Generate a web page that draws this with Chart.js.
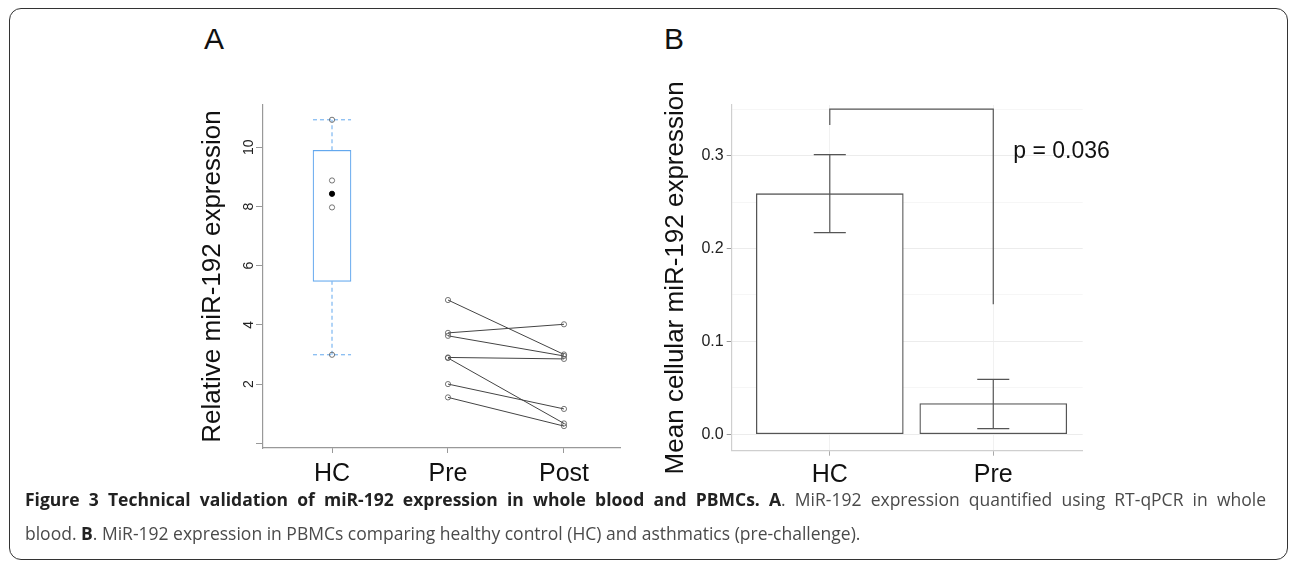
<!DOCTYPE html>
<html lang="en">
<head>
<meta charset="UTF-8" />
<title>Figure 3 – miR-192 expression</title>
<style>
  body {
    margin: 0;
    background: #fff;
    width: 1290px;
    height: 562px;
    position: relative;
    overflow: hidden;
    font-family: "Liberation Sans", Arial, sans-serif;
  }
  .frame {
    position: absolute;
    left: 9px;
    top: 8px;
    width: 1279px;
    height: 552px;
    border: 1.5px solid #333;
    border-radius: 12px;
    box-sizing: border-box;
  }
  .panel-label {
    position: absolute;
    font-size: 30px;
    line-height: 1;
    color: #111;
  }
  canvas { position: absolute; }
  #chartA { left: 140px; top: 40px; }
  #chartB { left: 640px; top: 40px; }
  .caption {
    position: absolute;
    left: 25px;
    width: 1241px;
    font-family: "Open Sans", sans-serif;
    font-size: 17.5px;
    line-height: 34px;
    color: #4a4a4a;
    white-space: nowrap;
  }
  .caption.first { top: 482px; text-align: justify; text-align-last: justify; }
  .caption.second { top: 516px; }
  .caption b { color: #222; }
</style>
<script src="https://cdn.jsdelivr.net/npm/chart.js"></script>
</head>
<body>

<div class="frame"></div>
<div class="panel-label" style="left:204px; top:24px;">A</div>
<div class="panel-label" style="left:664px; top:24px;">B</div>

<canvas id="chartA" width="500" height="460"></canvas>
<canvas id="chartB" width="480" height="460"></canvas>

<div class="caption first"><b>Figure 3 Technical validation of miR-192 expression in whole blood and PBMCs. A</b>. MiR-192 expression quantified using RT-qPCR in whole</div>
<div class="caption second">blood. <b>B</b>. MiR-192 expression in PBMCs comparing healthy control (HC) and asthmatics (pre-challenge).</div>

<script>
  // ---- panel A : whole blood ----
  const catsA = ['HC', 'Pre', 'Post'];
  const hcBox = [2.99, 5.47, 9.90, 10.93];   // lower whisker, q1, q3, upper whisker
  const hcPoints = [10.93, 8.88, 7.97, 2.99];
  const hcMean = [8.43];
  const preVals = [4.84, 3.73, 3.63, 2.90, 2.88, 2.00, 1.55];
  const postVals = [3.00, 4.02, 2.95, 2.85, 0.67, 1.16, 0.58];
  const yTicksA = [0, 2, 4, 6, 8, 10];
  const yTickLabelsA = ['', '2', '4', '6', '8', '10'];

  // ---- panel B : PBMCs ----
  const catsB = ['HC', 'Pre'];
  const meanB = [0.259, 0.033];
  const errLowB = [0.217, 0.006];
  const errHighB = [0.301, 0.059];
  const yTicksB = [0, 0.1, 0.2, 0.3];
  const yGridB = [0, 0.05, 0.1, 0.15, 0.2, 0.25, 0.3, 0.35];
  const bracketB = [0.333, 0.35, 0.14];   // left leg end, bar height, right leg end
  const pText = 'p = 0.036';

  const FONT = '"Liberation Sans", Arial, sans-serif';
  Chart.defaults.font.family = FONT;
  Chart.defaults.animation = false;
  Chart.defaults.plugins.legend.display = false;
  Chart.defaults.plugins.tooltip.enabled = false;

  const boxColor = '#63a8ee';
  const CAP_A = 0.164;
  const CAP_B = 0.098;

  const dashed = { type: 'line', borderColor: boxColor, borderWidth: 1, borderDash: [4, 3], pointRadius: 0 };
  const openPt = { pointRadius: 2.6, pointBorderColor: '#555', pointBackgroundColor: 'rgba(0,0,0,0)', pointBorderWidth: 0.8 };

  const rotatedTicks = {
    id: 'rotatedTicks',
    afterDraw(chart) {
      const ys = chart.scales.y, ctx = chart.ctx;
      ctx.save();
      ctx.font = '14px ' + FONT;
      ctx.fillStyle = '#222';
      ctx.textAlign = 'center';
      ctx.textBaseline = 'middle';
      yTicksA.forEach((v, i) => {
        if (!yTickLabelsA[i]) return;
        ctx.save();
        ctx.translate(ys.right - 14, ys.getPixelForValue(v));
        ctx.rotate(-Math.PI / 2);
        ctx.fillText(yTickLabelsA[i], 0, 0);
        ctx.restore();
      });
      ctx.restore();
    }
  };

  new Chart(document.getElementById('chartA'), {
    type: 'bar',
    data: {
      datasets: [
        { type: 'scatter', data: hcMean.map(v => ({x: 1, y: v})), pointRadius: 2.6, pointBackgroundColor: '#000', pointBorderColor: '#000' },
        Object.assign({ type: 'scatter', data: hcPoints.map(v => ({x: 1, y: v})) }, openPt),
        Object.assign({}, dashed, { data: [{x: 1, y: hcBox[2]}, {x: 1, y: hcBox[3]}] }),
        Object.assign({}, dashed, { data: [{x: 1, y: hcBox[0]}, {x: 1, y: hcBox[1]}] }),
        Object.assign({}, dashed, { data: [{x: 1 - CAP_A, y: hcBox[3]}, {x: 1 + CAP_A, y: hcBox[3]}] }),
        Object.assign({}, dashed, { data: [{x: 1 - CAP_A, y: hcBox[0]}, {x: 1 + CAP_A, y: hcBox[0]}] }),
        { type: 'bar', data: [{x: 1, y: [hcBox[1], hcBox[2]]}], backgroundColor: '#fff', borderColor: boxColor,
          borderWidth: 1.2, borderSkipped: false, barThickness: 38 },
        ...preVals.map((v, i) => Object.assign({
          type: 'line', data: [{x: 2, y: v}, {x: 3, y: postVals[i]}], borderColor: '#444', borderWidth: 1
        }, openPt))
      ]
    },
    options: {
      responsive: false,
      layout: { padding: { top: 65, right: 20, left: 0, bottom: 0 } },
      scales: {
        x: {
          type: 'linear', min: 0.405, max: 3.483, offset: false,
          afterBuildTicks: s => { s.ticks = catsA.map((c, i) => ({value: i + 1})); },
          afterFit: s => { s.height = 52; },
          ticks: { callback: v => catsA[v - 1], font: { size: 25 }, color: '#111', padding: 6, maxRotation: 0, autoSkip: false },
          grid: { drawOnChartArea: false, tickLength: 5, tickColor: '#999', offset: false },
          border: { color: '#999', width: 1.2 }
        },
        y: {
          min: -0.16, max: 11.43,
          afterBuildTicks: s => { s.ticks = yTicksA.map(v => ({value: v})); },
          afterFit: s => { s.width = 123; },
          ticks: { display: false },
          grid: { drawOnChartArea: false, tickLength: 7, tickColor: '#999' },
          border: { color: '#999', width: 1.2 },
          title: { display: true, text: 'Relative miR-192 expression', font: { size: 26 }, color: '#111', padding: { top: 57.4, bottom: 0 } }
        }
      }
    },
    plugins: [rotatedTicks]
  });

  function errorBars(lo, hi, cap) {
    const sets = [];
    lo.forEach((l, i) => {
      const x = i + 1;
      const style = { type: 'line', borderColor: '#555', borderWidth: 1.2, pointRadius: 0 };
      sets.push(Object.assign({ data: [{x: x, y: l}, {x: x, y: hi[i]}] }, style));
      sets.push(Object.assign({ data: [{x: x - cap, y: hi[i]}, {x: x + cap, y: hi[i]}] }, style));
      sets.push(Object.assign({ data: [{x: x - cap, y: l}, {x: x + cap, y: l}] }, style));
    });
    return sets;
  }

  const isMajor = v => yTicksB.some(t => Math.abs(t - v) < 1e-9);

  const pLabel = {
    id: 'pLabel',
    afterDatasetsDraw(chart) {
      const xs = chart.scales.x, ys = chart.scales.y, ctx = chart.ctx;
      ctx.save();
      ctx.font = '23px ' + FONT;
      ctx.fillStyle = '#111';
      ctx.textAlign = 'left';
      ctx.textBaseline = 'middle';
      ctx.fillText(pText, xs.getPixelForValue(2) + 20, ys.getPixelForValue(0.304));
      ctx.restore();
    }
  };

  new Chart(document.getElementById('chartB'), {
    type: 'bar',
    data: {
      datasets: [
        { type: 'line', data: [{x: 1, y: bracketB[0]}, {x: 1, y: bracketB[1]}, {x: 2, y: bracketB[1]}, {x: 2, y: bracketB[2]}],
          borderColor: '#555', borderWidth: 1.2, pointRadius: 0 },
        ...errorBars(errLowB, errHighB, CAP_B),
        { type: 'bar', data: meanB.map((v, i) => ({x: i + 1, y: v})), backgroundColor: '#fff', borderColor: '#555',
          borderWidth: 1.3, borderSkipped: false, barThickness: 147 }
      ]
    },
    options: {
      responsive: false,
      layout: { padding: { top: 65, right: 37.3, left: 0, bottom: 0 } },
      scales: {
        x: {
          type: 'linear', min: 0.4, max: 2.547, offset: false,
          afterBuildTicks: s => { s.ticks = catsB.map((c, i) => ({value: i + 1})); },
          afterFit: s => { s.height = 49.3; },
          ticks: { callback: v => catsB[v - 1], font: { size: 25 }, color: '#111', padding: 4, maxRotation: 0, autoSkip: false },
          grid: { color: '#f1f1f1', tickLength: 5, tickColor: '#aaa', offset: false },
          border: { color: '#cfcfcf', width: 1.2 }
        },
        y: {
          min: -0.0177, max: 0.3545,
          afterBuildTicks: s => { s.ticks = yGridB.map(v => ({value: v})); },
          afterFit: s => { s.width = 91.7; },
          ticks: { callback: v => isMajor(v) ? v.toFixed(1) : '', font: { size: 16 }, color: '#222', padding: 3, autoSkip: false },
          grid: {
            color: c => (c.tick && isMajor(c.tick.value)) ? '#ececec' : '#f6f6f6',
            tickLength: 5,
            tickColor: c => (c.tick && isMajor(c.tick.value)) ? '#999' : 'rgba(0,0,0,0)'
          },
          border: { color: '#cfcfcf', width: 1.2 },
          title: { display: true, text: 'Mean cellular miR-192 expression', font: { size: 26 }, color: '#111', padding: { top: 20.4, bottom: 0 } }
        }
      }
    },
    plugins: [pLabel]
  });
</script>

</body>
</html>
